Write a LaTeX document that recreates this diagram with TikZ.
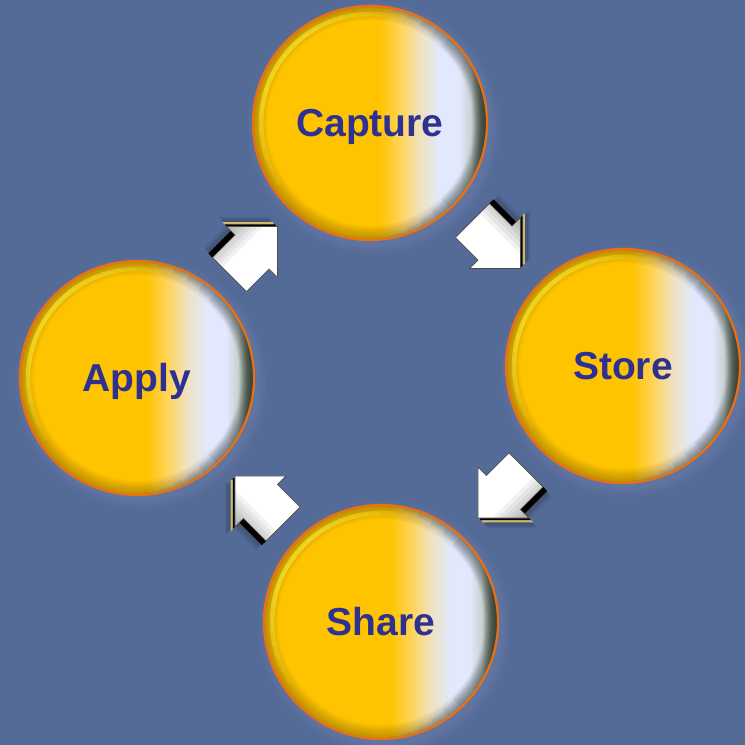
\documentclass[tikz,border=0pt]{standalone}
\usepackage{fontspec}
\newfontfamily\labelfont{Liberation Sans}
\usetikzlibrary{
	calc,
	positioning
}

\definecolor{bgblue}{RGB}{84,106,151}
\definecolor{haze}{RGB}{170,185,220}
\definecolor{ballA}{RGB}{255,196,0}
\definecolor{ballB}{RGB}{255,212,90}
\definecolor{ballC}{RGB}{240,225,190}
\definecolor{ballD}{RGB}{226,233,255}
\definecolor{ballE}{RGB}{200,210,210}
\definecolor{ballF}{RGB}{110,122,110}
\definecolor{ballG}{RGB}{80,92,80}
\definecolor{edgegray}{RGB}{50,64,52}
\definecolor{rim}{RGB}{236,112,18}
\definecolor{hilite}{RGB}{255,246,60}
\definecolor{labelblue}{RGB}{46,49,146}
\definecolor{khaki}{RGB}{204,186,112}

\pgfdeclarehorizontalshading{ballfill}{100bp}{
	color(0bp)=(ballA); color(25bp)=(ballA); color(52bp)=(ballA);
	color(56.5bp)=(ballB); color(60.5bp)=(ballC); color(65bp)=(ballD);
	color(69bp)=(ballD); color(71.5bp)=(ballE); color(73.5bp)=(ballF);
	color(75bp)=(ballG); color(100bp)=(ballG)}

% 箭头轮廓
\newcommand{\blkarrow}{(34,0) -- (-2,36) -- (-2,24) -- (-34,24) -- (-34,-24) -- (-2,-24) -- (-2,-36) -- cycle}

\begin{document}
\begin{tikzpicture}[
				x=1pt, y=1pt,
				ball/.style={circle, minimum size=234pt, inner sep=0pt, shading=ballfill,
					text=labelblue, text height=28pt, text depth=0pt,
					font=\labelfont\bfseries\fontsize{39}{40}\selectfont},
				blockarrow/.pic={
					% 阴影
					\foreach \d in {9,11,13}
						\fill[black, opacity=0.07] [shift={(1,\d)}] \blkarrow;
					% 侧面
					\fill[khaki] [shift={(0,6)}] \blkarrow;
					\fill[black] (-34,24) rectangle (-2,30);
					\fill[black] [shift={(0,3)}] \blkarrow;
					% 正面
					\fill[white] \blkarrow;
					\begin{scope}
						\clip \blkarrow;
						\foreach \s in {0,...,5}
							\fill[black, opacity=0.05] (-40,10+\s*4) rectangle (40,40);
					\end{scope}
					\draw[black!70, line width=0.6pt, line join=round] \blkarrow;
				}
			]
				% 背景
				\useasboundingbox (0,0) rectangle (745,745);
				\fill[bgblue] (0,0) rectangle (745,745);

				% 圆心
				\coordinate (capC) at (370,622);
				\coordinate (stoC) at (623,379);
				\coordinate (shaC) at (381,123);
				\coordinate (appC) at (137,367);

				% 光晕
				\foreach \c in {capC,stoC,shaC,appC}
					\foreach \g in {2,4,...,10}
						\fill[haze, opacity=0.035] ($(\c)+(4,-5)$) circle[radius=116pt+\g pt];

				% 圆
				\node[ball] (cap) at (capC) {Capture};
				\node[ball] (sto) at (stoC) {Store};
				\node[ball] (sha) at (shaC) {Share};
				\node[ball] (app) at (appC) {Apply};

				% 边缘暗影、高光、外圈
				\foreach \c in {cap,sto,sha,app}{
					\foreach \k in {2,4,...,14}
						\draw[black, opacity=0.04, line width=\k pt] (\c.center) circle[radius=117pt-\k pt/2];
					\foreach \k in {1,...,6}
						\draw[edgegray, opacity=0.08, line width=2*\k pt]
							($(\c.center)+(-95+\k*8:117-\k)$) arc[start angle=-95+\k*8, end angle=95-\k*8, radius=117pt-\k pt];
					\foreach \a in {0,...,7}
						\draw[hilite, opacity=0.1, line width=4.5pt]
							($(\c.center)+(125-\a*7:109)$) arc[start angle=125-\a*7, end angle=165+\a*7, radius=109pt];
					\draw[rim, line width=2.2pt] (\c.center) circle[radius=117pt];
				}

				% 箭头
				\pic[rotate=-45]  at ($(cap)!0.5!(sto)$) {blockarrow};
				\pic[rotate=-135] at ($(sto)!0.5!(sha)$) {blockarrow};
				\pic[rotate=135]  at ($(sha)!0.5!(app)$) {blockarrow};
				\pic[rotate=45]   at ($(app)!0.5!(cap)$) {blockarrow};
			\end{tikzpicture}
\end{document}
